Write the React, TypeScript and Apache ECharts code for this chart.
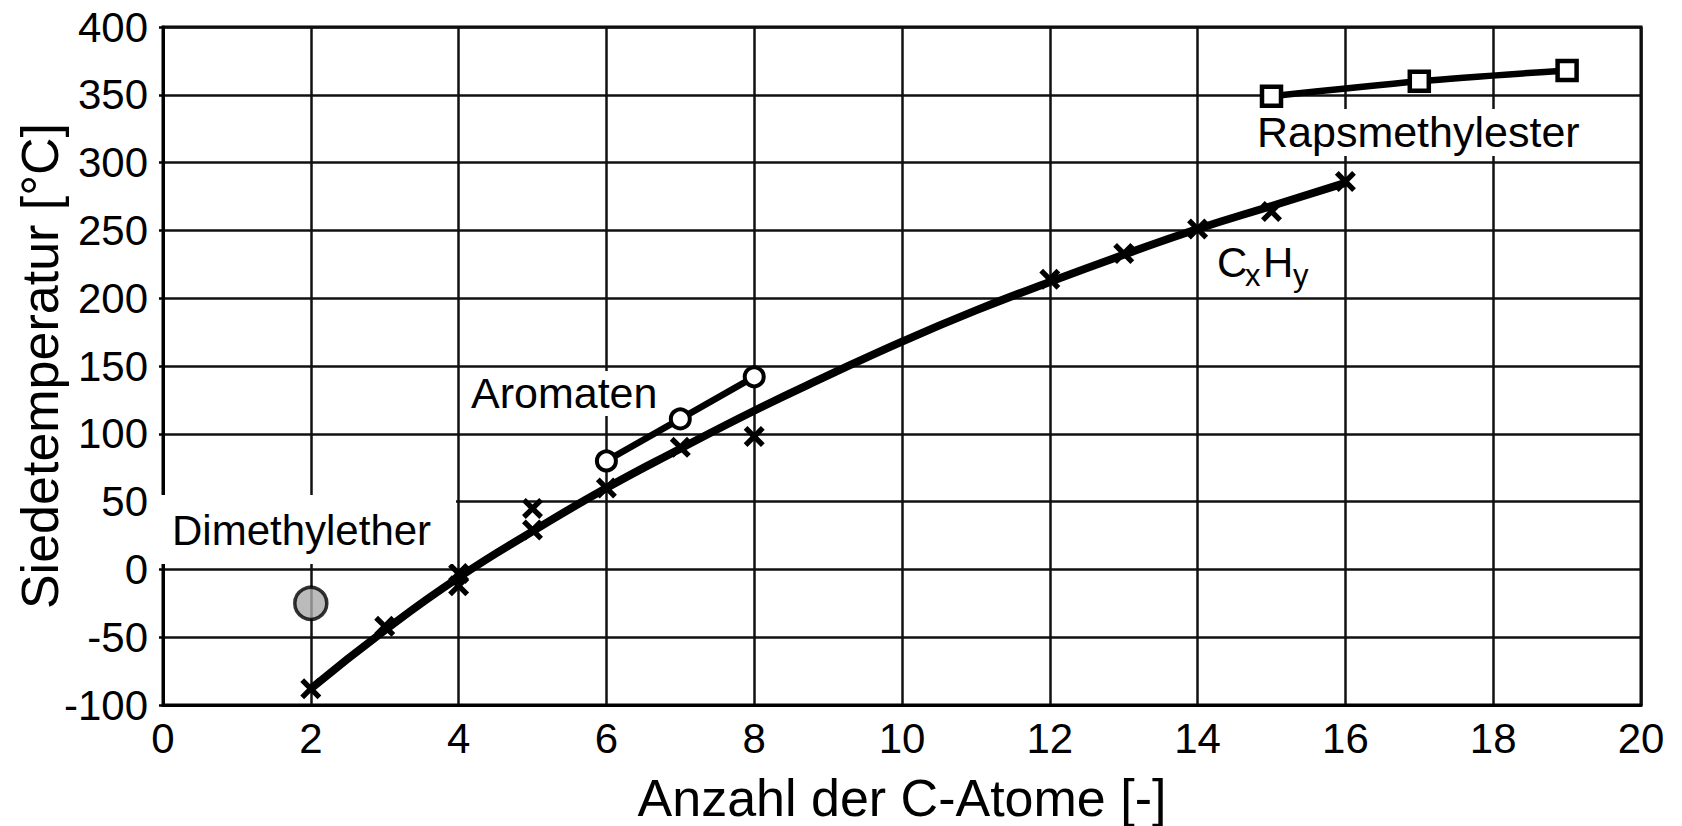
import React, { useEffect, useRef } from "react";
import * as echarts from "echarts";

// ---- data ----
const xTickValues = [0, 2, 4, 6, 8, 10, 12, 14, 16, 18, 20];
const yTickValues = [-100, -50, 0, 50, 100, 150, 200, 250, 300, 350, 400];

// C_xH_y measured points (crosses)
const cxhyX = [2, 3, 4, 4, 5, 5, 6, 7, 8, 12, 13, 14, 15, 16];
const cxhyY = [-88, -42, -3, -12, 45, 29, 60, 90, 98, 214, 233, 251, 264, 286];

// C_xH_y fitted curve
const curveX = [2, 3, 4, 5, 6, 7, 8, 9, 10, 11, 12, 13, 14, 15, 16];
const curveY = [-88, -45, -6, 28, 60, 89, 117, 143, 168, 191, 212, 232, 251, 268, 285];

// Aromaten (circles)
const aromX = [6, 7, 8];
const aromY = [80, 111, 142];

// Rapsmethylester (squares)
const rmeX = [15, 17, 19];
const rmeY = [349, 360, 368];

// Dimethylether (grey dot)
const dmeX = [2];
const dmeY = [-25];

const FONT = "'Liberation Sans', Arial, Helvetica, sans-serif";
const zip = (xs: number[], ys: number[]) => xs.map((x, i) => [x, ys[i]]);

const CROSS =
  "path://M0,3.6 L3.6,0 L10,6.4 L16.4,0 L20,3.6 L13.6,10 L20,16.4 L16.4,20 L10,13.6 L3.6,20 L0,16.4 L6.4,10 Z";

export default function App() {
  const ref = useRef<HTMLDivElement>(null);

  useEffect(() => {
    if (!ref.current) return;
    const chart = echarts.init(ref.current, null, { renderer: "svg" });
    const option: any = {
      animation: false,
      backgroundColor: "#fff",
      grid: {
        left: 163,
        right: 41,
        top: 27,
        bottom: 121,
        outerBoundsMode: "none",
        containLabel: false,
        show: true,
        borderColor: "#000",
        borderWidth: 3,
        backgroundColor: "transparent",
      },
      xAxis: {
        type: "value",
        min: xTickValues[0],
        max: xTickValues[xTickValues.length - 1],
        interval: 2,
        name: "Anzahl der C-Atome [-]",
        nameLocation: "middle",
        nameGap: 67,
        nameMoveOverlap: false,
        nameTextStyle: { fontFamily: FONT, fontSize: 52, color: "#000" },
        axisLine: { show: true, onZero: false, lineStyle: { color: "#000", width: 3 } },
        axisTick: { show: false },
        axisLabel: { fontFamily: FONT, fontSize: 42, color: "#000", margin: 12 },
        splitLine: { show: true, lineStyle: { color: "#111", width: 2.5 } },
      },
      yAxis: {
        type: "value",
        min: yTickValues[0],
        max: yTickValues[yTickValues.length - 1],
        interval: 50,
        name: "Siedetemperatur [°C]",
        nameLocation: "middle",
        nameGap: 97,
        nameMoveOverlap: false,
        nameTextStyle: { fontFamily: FONT, fontSize: 52, color: "#000" },
        axisLine: { show: true, onZero: false, lineStyle: { color: "#000", width: 3 } },
        axisTick: { show: true, length: 4, lineStyle: { color: "#000", width: 2.5 } },
        axisLabel: { fontFamily: FONT, fontSize: 42, color: "#000", margin: 15 },
        splitLine: { show: true, lineStyle: { color: "#111", width: 2.5 } },
      },
      series: [
        {
          name: "CxHy Kurve",
          type: "line",
          data: zip(curveX, curveY),
          smooth: 0.5,
          showSymbol: false,
          symbol: "none",
          lineStyle: { color: "#000", width: 8 },
          z: 3,
        },
        {
          name: "CxHy",
          type: "scatter",
          data: zip(cxhyX, cxhyY),
          symbol: CROSS,
          symbolSize: 21,
          itemStyle: { color: "#000", opacity: 1 },
          z: 4,
        },
        {
          name: "Aromaten",
          type: "line",
          data: zip(aromX, aromY),
          symbol: "circle",
          symbolSize: 19,
          showSymbol: true,
          lineStyle: { color: "#000", width: 6.5 },
          itemStyle: { color: "#fff", borderColor: "#000", borderWidth: 4 },
          z: 5,
        },
        {
          name: "Rapsmethylester",
          type: "line",
          data: zip(rmeX, rmeY),
          smooth: 0.3,
          symbol: "rect",
          symbolSize: 19,
          showSymbol: true,
          lineStyle: { color: "#000", width: 6.5 },
          itemStyle: { color: "#fff", borderColor: "#000", borderWidth: 4.5 },
          z: 5,
        },
        {
          name: "Dimethylether",
          type: "scatter",
          data: zip(dmeX, dmeY),
          symbol: "circle",
          symbolSize: 32,
          itemStyle: { color: "#aaaaaa", borderColor: "#000", borderWidth: 3.5 },
          z: 5,
        },
      ],
      graphic: [
        {
          type: "rect",
          z: 50,
          shape: { x: 155, y: 495, width: 301, height: 69 },
          style: { fill: "#fff" },
        },
        {
          type: "text",
          z: 51,
          x: 172,
          y: 530,
          style: {
            text: "Dimethylether",
            fontFamily: FONT,
            fontSize: 42,
            fill: "#000",
            align: "left",
            verticalAlign: "middle",
          },
        },
        {
          type: "rect",
          z: 50,
          shape: { x: 464, y: 371, width: 205, height: 45 },
          style: { fill: "#fff" },
        },
        {
          type: "text",
          z: 51,
          x: 471,
          y: 393,
          style: {
            text: "Aromaten",
            fontFamily: FONT,
            fontSize: 43,
            fill: "#000",
            align: "left",
            verticalAlign: "middle",
          },
        },
        {
          type: "rect",
          z: 50,
          shape: { x: 1250, y: 109, width: 346, height: 47 },
          style: { fill: "#fff" },
        },
        {
          type: "text",
          z: 51,
          x: 1257,
          y: 132,
          style: {
            text: "Rapsmethylester",
            fontFamily: FONT,
            fontSize: 43,
            fill: "#000",
            align: "left",
            verticalAlign: "middle",
          },
        },
        {
          type: "text",
          z: 51,
          x: 1217,
          y: 262,
          style: { text: "C", fontFamily: FONT, fontSize: 42, fill: "#000", align: "left", verticalAlign: "middle" },
        },
        {
          type: "text",
          z: 51,
          x: 1245,
          y: 275,
          style: { text: "x", fontFamily: FONT, fontSize: 31, fill: "#000", align: "left", verticalAlign: "middle" },
        },
        {
          type: "text",
          z: 51,
          x: 1263,
          y: 262,
          style: { text: "H", fontFamily: FONT, fontSize: 42, fill: "#000", align: "left", verticalAlign: "middle" },
        },
        {
          type: "text",
          z: 51,
          x: 1293,
          y: 275,
          style: { text: "y", fontFamily: FONT, fontSize: 31, fill: "#000", align: "left", verticalAlign: "middle" },
        },
      ],
    };
    chart.setOption(option);
    return () => chart.dispose();
  }, []);

  return (
    <div
      ref={ref}
      style={{ position: "fixed", left: 0, top: 0, width: 1682, height: 826, background: "#fff" }}
    />
  );
}
